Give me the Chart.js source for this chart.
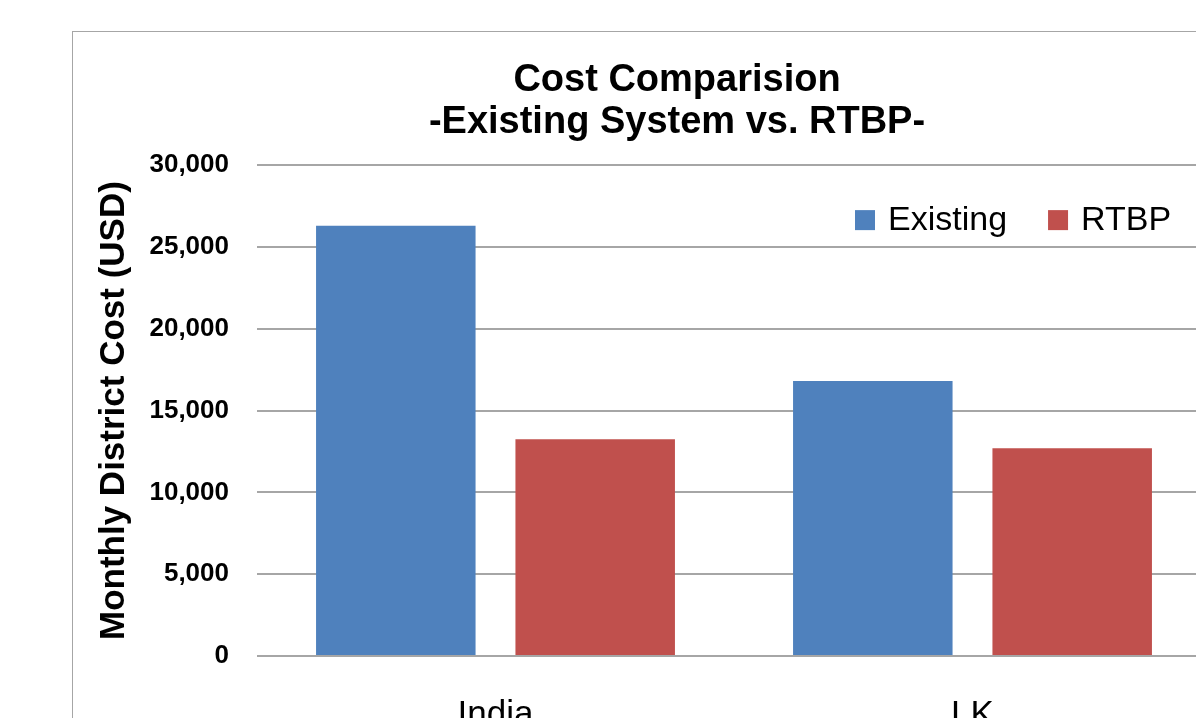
<!DOCTYPE html>
<html>
<head>
<meta charset="utf-8">
<title>Cost Comparision</title>
<script src="https://cdn.jsdelivr.net/npm/chart.js@4/dist/chart.umd.min.js"></script>
<style>
    html, body { margin: 0; padding: 0; background: #fff; overflow: hidden; }
    #frame {
        position: absolute;
        left: 72px;
        top: 31px;
        width: 1208px;
        height: 760px;
        border: 1px solid #a6a6a6;
    }
</style>
</head>
<body>
<div id="frame"><canvas id="costChart"></canvas></div>
<script>
// chart data
const categories = ['India', 'LK'];
const existingCost = [26300, 16800];
const rtbpCost = [13250, 12700];
const seriesNames = ['Existing', 'RTBP'];
const seriesColors = ['#4f81bd', '#c0504d'];
const yTicks = [0, 5000, 10000, 15000, 20000, 25000, 30000];

const FONT = '"Liberation Sans", Arial, sans-serif';

// legend drawn inside the plot area, top right
const insideLegend = {
    id: 'insideLegend',
    afterDraw: function(chart) {
        const ctx = chart.ctx;
        const area = chart.chartArea;
        let x = area.right - 356;
        const y = area.top + 55;
        ctx.save();
        ctx.font = '34px ' + FONT;
        ctx.textBaseline = 'middle';
        ctx.textAlign = 'left';
        chart.data.datasets.forEach(function(ds) {
            ctx.fillStyle = ds.backgroundColor;
            ctx.fillRect(x, y - 10, 20, 20);
            ctx.fillStyle = '#000';
            ctx.fillText(ds.label, x + 33, y + 1);
            x += 33 + ctx.measureText(ds.label).width + 41;
        });
        ctx.restore();
    }
};

document.addEventListener('DOMContentLoaded', function() {
    const ctx = document.getElementById('costChart').getContext('2d');
    new Chart(ctx, {
        type: 'bar',
        data: {
            labels: categories,
            datasets: [{
                label: seriesNames[0],
                data: existingCost,
                backgroundColor: seriesColors[0],
                borderWidth: 0
            }, {
                label: seriesNames[1],
                data: rtbpCost,
                backgroundColor: seriesColors[1],
                borderWidth: 0
            }]
        },
        options: {
            responsive: true,
            maintainAspectRatio: false,
            animation: false,
            datasets: {
                bar: {
                    barPercentage: 0.8,
                    categoryPercentage: 0.836
                }
            },
            layout: {
                padding: { left: 0, right: 0, top: 0, bottom: 18 }
            },
            plugins: {
                legend: { display: false },
                tooltip: { enabled: false },
                title: {
                    display: true,
                    text: ['Cost Comparision', '-Existing System vs. RTBP-'],
                    color: '#000',
                    font: { family: FONT, size: 38, weight: 'bold', lineHeight: 1.12 },
                    padding: { top: 27, bottom: 21 }
                }
            },
            scales: {
                x: {
                    grid: { display: false, drawTicks: false },
                    border: { display: false },
                    ticks: {
                        color: '#000',
                        padding: 38,
                        font: { family: FONT, size: 35 }
                    }
                },
                y: {
                    min: 0,
                    max: 30000,
                    afterBuildTicks: function(axis) {
                        axis.ticks = yTicks.map(function(v) { return { value: v }; });
                    },
                    afterFit: function(axis) { axis.width = 184; },
                    grid: { color: '#a6a6a6', lineWidth: 2, drawTicks: false },
                    border: { display: false },
                    ticks: {
                        color: '#000',
                        padding: 28,
                        font: { family: FONT, size: 26, weight: 'bold' },
                        callback: function(v) { return v.toLocaleString('en-US'); }
                    },
                    title: {
                        display: true,
                        text: 'Monthly District Cost (USD)',
                        color: '#000',
                        font: { family: FONT, size: 35, weight: 'bold' },
                        padding: { top: 20, bottom: 17 }
                    }
                },
                // empty spacer on the right so the plot runs past the frame edge
                spacer: {
                    type: 'linear',
                    position: 'right',
                    display: true,
                    grid: { display: false, drawTicks: false },
                    border: { display: false },
                    ticks: { display: false },
                    afterFit: function(axis) { axis.width = 70; }
                }
            }
        },
        plugins: [insideLegend]
    });
});
</script>
</body>
</html>
